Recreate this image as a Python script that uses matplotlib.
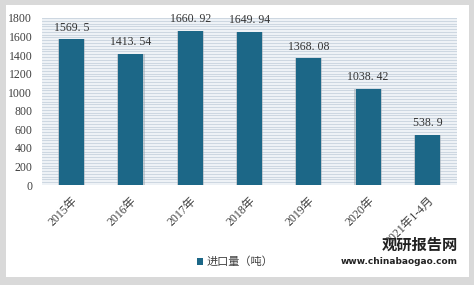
import numpy as np
import matplotlib.pyplot as plt
from matplotlib.patches import Rectangle

plt.rcParams['font.family'] = ['Liberation Serif', 'Noto Sans CJK SC']

# 数据
years = ["2015年", "2016年", "2017年", "2018年", "2019年", "2020年", "2021年1-4月"]
imports = [1569.5, 1413.54, 1660.92, 1649.94, 1368.08, 1038.42, 538.9]
value_labels = ["1569. 5", "1413. 54", "1660. 92", "1649. 94", "1368. 08", "1038. 42", "538. 9"]

bar_color = "#1C6787"

fig = plt.figure(figsize=(4.74, 2.85), dpi=100)
fig.patch.set_facecolor("#D9D9D9")
# weisse Karte
fig.patches.append(Rectangle((6/474, 8/285), 463/474, 272/285, transform=fig.transFigure,
                             facecolor="white", edgecolor="none", zorder=-1))

ax = fig.add_axes([42/474, 1-185/285, 415/474, 167/285])
ax.set_zorder(2)
ax.set_facecolor("#EEF2F6")
for y in np.arange(0, 1801, 30):
    ax.axhline(y, color="#C7D2DD", lw=0.6, zorder=0)

x = np.arange(len(years))
# Schatten
ax.bar(x, imports, width=0.46, color="#9AA6B0", alpha=0.5, zorder=2)
ax.bar(x, imports, width=0.42, color=bar_color, zorder=3, label="进口量（吨）")

for xi, v, t in zip(x, imports, value_labels):
    ax.text(xi, v + 60, t, ha="center", va="bottom", fontsize=8.5, color="#333333", zorder=4)

ax.set_xlim(-0.5, len(years) - 0.5)
ax.set_ylim(0, 1800)
ax.set_yticks(range(0, 1801, 200))
ax.set_xticks(x)
ax.set_xticklabels(years, rotation=45, ha="right", rotation_mode="anchor", fontsize=8.5, color="#404040")
ax.tick_params(axis="y", labelsize=8.5, colors="#404040", length=0, pad=7)
ax.tick_params(axis="x", length=0, pad=7)
for s in ax.spines.values():
    s.set_visible(False)

leg = fig.legend(loc="center", bbox_to_anchor=(235/474, 1-262/285), frameon=False,
                 handlelength=0.6, handleheight=0.6, handletextpad=0.3,
                 prop={"family": ["Noto Sans CJK SC"], "size": 8})
for t in leg.get_texts():
    t.set_color("#404040")

# Wasserzeichen
fig.text(458/474, 1-245/285, "观研报告网", ha="right", va="center", fontsize=11, fontweight="bold",
         family=["Noto Sans CJK SC"], color="#222222")
fig.text(458/474, 1-262/285, "www.chinabaogao.com", ha="right", va="center", fontsize=6.5,
         fontweight="bold", family=["DejaVu Sans"], color="#222222")

fig.savefig("out.png", dpi=100)
